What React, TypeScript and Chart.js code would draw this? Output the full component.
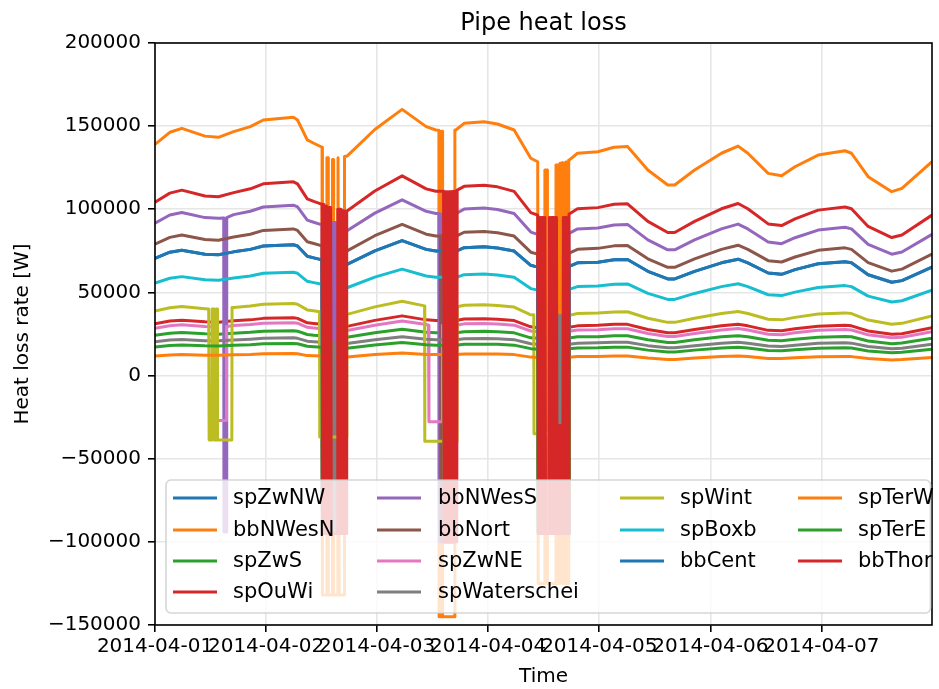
import React, { useEffect, useRef } from 'react';
import { Chart, registerables } from 'chart.js';

Chart.register(...registerables);

// ---------- axes / labels ----------
const chartTitle = 'Pipe heat loss';
const xAxisTitle = 'Time';
const yAxisTitle = 'Heat loss rate [W]';
const xTickHours = [0, 24, 48, 72, 96, 120, 144];
const xTickLabels = ['2014-04-01', '2014-04-02', '2014-04-03', '2014-04-04', '2014-04-05', '2014-04-06', '2014-04-07'];
const yTickValues = [-150000, -100000, -50000, 0, 50000, 100000, 150000, 200000];
const yTickLabels = ['\u2212150000', '\u2212100000', '\u221250000', '0', '50000', '100000', '150000', '200000'];

const seriesNames = ['spZwNW', 'bbNWesN', 'spZwS', 'spOuWi', 'bbNWesS', 'bbNort', 'spZwNE', 'spWaterschei', 'spWint', 'spBoxb', 'bbCent', 'spTerW', 'spTerE', 'bbThor'];
const seriesColors = ['#1f77b4', '#ff7f0e', '#2ca02c', '#d62728', '#9467bd', '#8c564b', '#e377c2', '#7f7f7f', '#bcbd22', '#17becf', '#1f77b4', '#ff7f0e', '#2ca02c', '#d62728'];

// ---------- time grid (hours since 2014-04-01 00:00) ----------
const hours = [0, 3.2, 5.8, 10.8, 13.7, 17, 20.6, 23.4, 29.9, 30.8, 32.9, 34.3, 36.1, 41.5, 47.5, 53.4, 58.6, 60.7, 65, 66.8, 71.1, 74, 77.6, 81.2, 82.7, 89.5, 91.3, 95.7, 99.2, 102.1, 106.5, 110.8, 112.3, 116.6, 122.4, 126, 128.1, 132.5, 135.4, 138.3, 143.3, 149.1, 150.5, 154.1, 159.2, 161.4, 167.9];

// ---------- regular values (kW) ----------
const spZwNW = [70.5, 74.2, 75.4, 73, 72.7, 74.4, 75.9, 77.9, 78.7, 77.9, 71.8, 70.8, 69.6, 66.9, 75, 81.2, 75.9, 74.9, 74.9, 76.9, 77.4, 76.7, 74.9, 66.3, 65.2, 65.7, 67.8, 68.2, 69.6, 69.8, 62.7, 58.1, 58.1, 62.7, 67.8, 70, 67.8, 61.7, 60.9, 63.7, 67.2, 68.5, 67.8, 60.6, 56.1, 57.1, 65.2];
const bbNWesN = [139, 146.3, 148.7, 144, 143.3, 146.7, 149.7, 153.7, 155.3, 153.7, 141.7, 139.7, 137.3, 132, 148, 160.1, 149.7, 147.7, 147.7, 151.7, 152.7, 151.3, 147.7, 130.7, 128.6, 129.6, 133.7, 134.6, 137.3, 137.7, 123.6, 114.6, 114.6, 123.6, 133.7, 138, 133.7, 121.6, 120.2, 125.6, 132.6, 135.2, 133.7, 119.6, 110.6, 112.6, 128.6];
const spZwS = [24.2, 25.5, 25.9, 25.1, 24.9, 25.5, 26, 26.7, 27, 26.7, 24.7, 24.3, 23.9, 23, 25.8, 27.9, 26, 25.7, 25.7, 26.4, 26.6, 26.3, 25.7, 22.7, 22.4, 22.6, 23.3, 23.4, 23.9, 24, 21.5, 19.9, 19.9, 21.5, 23.3, 24, 23.3, 21.2, 20.9, 21.9, 23.1, 23.5, 23.3, 20.8, 19.2, 19.6, 22.4];
const spOuWi = [31.1, 32.8, 33.3, 32.3, 32.1, 32.9, 33.5, 34.4, 34.8, 34.4, 31.7, 31.3, 30.8, 29.6, 33.2, 35.9, 33.5, 33.1, 33.1, 34, 34.2, 33.9, 33.1, 29.3, 28.8, 29, 29.9, 30.2, 30.8, 30.8, 27.7, 25.7, 25.7, 27.7, 29.9, 30.9, 29.9, 27.2, 26.9, 28.1, 29.7, 30.3, 29.9, 26.8, 24.8, 25.2, 28.8];
const bbNWesS = [91.7, 96.6, 98.1, 95, 94.6, 96.8, 98.8, 101.4, 102.5, 101.4, 93.5, 92.2, 90.6, 87.1, 97.7, 105.7, 98.8, 97.5, 97.5, 100.1, 100.8, 99.9, 97.5, 86.3, 84.9, 85.5, 88.2, 88.8, 90.6, 90.9, 81.6, 75.6, 75.6, 81.6, 88.2, 91.1, 88.2, 80.3, 79.3, 82.9, 87.5, 89.2, 88.2, 78.9, 73, 74.3, 84.9];
const bbNort = [79, 83.1, 84.5, 81.8, 81.4, 83.3, 85, 87.3, 88.2, 87.3, 80.5, 79.4, 78, 75, 84.1, 90.9, 85, 83.9, 83.9, 86.2, 86.7, 85.9, 83.9, 74.2, 73, 73.6, 75.9, 76.5, 78, 78.2, 70.2, 65.1, 65.1, 70.2, 75.9, 78.4, 75.9, 69.1, 68.3, 71.3, 75.3, 76.8, 75.9, 67.9, 62.8, 64, 73];
const spZwNE = [28.5, 30, 30.5, 29.5, 29.4, 30.1, 30.7, 31.5, 31.8, 31.5, 29, 28.6, 28.1, 27.1, 30.3, 32.8, 30.7, 30.3, 30.3, 31.1, 31.3, 31, 30.3, 26.8, 26.4, 26.6, 27.4, 27.6, 28.1, 28.2, 25.3, 23.5, 23.5, 25.3, 27.4, 28.3, 27.4, 24.9, 24.6, 25.7, 27.2, 27.7, 27.4, 24.5, 22.7, 23.1, 26.4];
const spWaterschei = [20.3, 21.4, 21.7, 21, 20.9, 21.4, 21.9, 22.4, 22.7, 22.4, 20.7, 20.4, 20, 19.3, 21.6, 23.4, 21.9, 21.6, 21.6, 22.1, 22.3, 22.1, 21.6, 19.1, 18.8, 18.9, 19.5, 19.7, 20, 20.1, 18, 16.7, 16.7, 18, 19.5, 20.1, 19.5, 17.8, 17.5, 18.3, 19.4, 19.7, 19.5, 17.5, 16.1, 16.4, 18.8];
const spWint = [38.8, 40.8, 41.5, 40.2, 40, 40.9, 41.8, 42.9, 43.3, 42.9, 39.5, 39, 38.3, 36.8, 41.3, 44.7, 41.8, 41.2, 41.2, 42.3, 42.6, 42.2, 41.2, 36.5, 35.9, 36.2, 37.3, 37.6, 38.3, 38.4, 34.5, 32, 32, 34.5, 37.3, 38.5, 37.3, 33.9, 33.5, 35, 37, 37.7, 37.3, 33.4, 30.9, 31.4, 35.9];
const spBoxb = [55.6, 58.5, 59.5, 57.6, 57.3, 58.7, 59.9, 61.5, 62.1, 61.5, 56.7, 55.9, 54.9, 52.8, 59.2, 64, 59.9, 59.1, 59.1, 60.7, 61.1, 60.5, 59.1, 52.3, 51.4, 51.8, 53.5, 53.8, 54.9, 55.1, 49.4, 45.8, 45.8, 49.4, 53.5, 55.2, 53.5, 48.6, 48.1, 50.2, 53, 54.1, 53.5, 47.8, 44.2, 45, 51.4];
const bbCent = [70.5, 74.2, 75.4, 73, 72.7, 74.4, 75.9, 77.9, 78.7, 77.9, 71.8, 70.8, 69.6, 66.9, 75, 81.2, 75.9, 74.9, 74.9, 76.9, 77.4, 76.7, 74.9, 66.3, 65.2, 65.7, 67.8, 68.2, 69.6, 69.8, 62.7, 58.1, 58.1, 62.7, 67.8, 70, 67.8, 61.7, 60.9, 63.7, 67.2, 68.5, 67.8, 60.6, 56.1, 57.1, 65.2];
const spTerW = [11.8, 12.4, 12.6, 12.2, 12.2, 12.5, 12.7, 13.1, 13.2, 13.1, 12, 11.9, 11.7, 11.2, 12.6, 13.6, 12.7, 12.6, 12.6, 12.9, 13, 12.9, 12.6, 11.1, 10.9, 11, 11.4, 11.4, 11.7, 11.7, 10.5, 9.7, 9.7, 10.5, 11.4, 11.7, 11.4, 10.3, 10.2, 10.7, 11.3, 11.5, 11.4, 10.2, 9.4, 9.6, 10.9];
const spTerE = [17.2, 18.1, 18.4, 17.9, 17.8, 18.2, 18.6, 19.1, 19.3, 19.1, 17.6, 17.3, 17, 16.4, 18.4, 19.9, 18.6, 18.3, 18.3, 18.8, 18.9, 18.8, 18.3, 16.2, 15.9, 16.1, 16.6, 16.7, 17, 17.1, 15.3, 14.2, 14.2, 15.3, 16.6, 17.1, 16.6, 15.1, 14.9, 15.6, 16.4, 16.8, 16.6, 14.8, 13.7, 14, 15.9];
const bbThor = [104.3, 109.7, 111.5, 108, 107.5, 110, 112.3, 115.3, 116.5, 115.3, 106.3, 104.8, 103, 99, 111, 120.1, 112.3, 110.8, 110.8, 113.8, 114.5, 113.5, 110.8, 98, 96.5, 97.2, 100.3, 101, 103, 103.3, 92.7, 86, 86, 92.7, 100.3, 103.5, 100.3, 91.2, 90.2, 94.2, 99.5, 101.4, 100.3, 89.7, 83, 84.5, 96.5];

// ---------- outage episodes: [hour, kW] vertices ----------
type Seg = [number, number][];
const spZwNW_out: Seg[] = [
  [[36.15, 69.6], [36.25, -95], [41.2, -95], [41.3, 66.9]],
  [[62.45, 74.9], [62.55, -100], [65, -100], [65.1, 74.9]],
  [[82.75, 65.2], [82.85, -95], [89.35, -95], [89.45, 65.7]],
];
const bbNWesN_out: Seg[] = [
  [[36.15, 137.2], [36.2, -132], [37.1, -132], [37.15, 131], [37.4, 131], [37.45, -132], [38.3, -132], [38.35, 130], [38.55, 130], [38.6, -132], [39.5, -132], [39.55, 131], [39.75, 131], [39.8, -132], [40.9, -132], [40.95, 131.7]],
  [[61.35, 147.6], [61.4, -145], [61.55, -145], [61.6, 147], [61.75, 147], [61.8, -145], [61.95, -145], [62, 147], [62.1, 147], [62.15, -145], [64.75, -145], [64.8, 147.7]],
  [[82.75, 128.6], [82.8, -125], [84.2, -125], [84.25, 123.6], [84.75, 123.6], [84.8, -125], [86.6, -125], [86.65, 126.6], [87.05, 126.6], [87.1, -125], [87.45, -125], [87.5, 127.5], [88.1, 128], [88.15, -125], [88.7, -125], [88.75, 128.5], [88.85, 128.5], [88.9, -125], [89.35, -125], [89.4, 129.6]],
];
const spZwS_out: Seg[] = [
  [[36.15, 23.9], [36.25, -95], [41.2, -95], [41.3, 23]],
  [[62.45, 25.7], [62.55, -100], [65, -100], [65.1, 25.7]],
  [[82.75, 22.4], [82.85, -95], [89.35, -95], [89.45, 22.6]],
];
const spOuWi_out: Seg[] = [
  [[36.15, 30.8], [36.25, -95], [41.2, -95], [41.3, 29.6]],
  [[62.45, 33.1], [62.55, -100], [65, -100], [65.1, 33.1]],
  [[82.75, 28.8], [82.85, -95], [89.35, -95], [89.45, 29]],
];
const bbNWesS_out: Seg[] = [
  [[14.85, 94.7], [14.9, -94], [15.45, -94], [15.5, 95]],
  [[36.15, 90.6], [36.25, -95], [37.9, -95], [38, 92], [38.1, -95], [38.2, 92], [38.3, -95], [38.4, 92], [38.5, -95], [38.6, 92], [38.7, -95], [38.8, 92], [38.9, -95], [39, 92], [39.1, -95], [39.2, 92], [39.3, -95], [41.2, -95], [41.3, 87.1]],
  [[61.35, 97.5], [61.45, -100], [61.55, 97], [61.65, -100], [61.75, 97], [61.85, -100], [61.95, 97], [62.05, -100], [62.15, 97], [62.25, -100], [62.35, 97], [62.45, -100], [65, -100], [65.1, 97.5]],
  [[82.75, 84.9], [82.85, -95], [89.35, -95], [89.45, 85.5]],
];
const bbNort_out: Seg[] = [
  [[36.15, 78], [36.25, -95], [41.2, -95], [41.3, 75]],
  [[61.7, 83.9], [61.8, -100], [61.9, 84], [62, -100], [62.1, 84], [62.2, -100], [62.3, 84], [62.4, -100], [65, -100], [65.1, 83.9]],
  [[82.75, 73], [82.85, -95], [89.35, -95], [89.45, 73.6]],
];
const spZwNE_out: Seg[] = [
  [[13.4, 29.4], [13.45, -27], [15.4, -27], [15.45, 29.5]],
  [[36.15, 28.1], [36.25, -95], [41.2, -95], [41.3, 27.1]],
  [[59.1, 30.3], [59.2, -27.7], [62.05, -27.7], [62.1, 30.3], [62.5, 30.3], [62.55, -100], [65, -100], [65.1, 30.3]],
  [[82.75, 26.4], [82.85, -95], [89.35, -95], [89.45, 26.6]],
];
const spWaterschei_out: Seg[] = [
  [[36.15, 20], [36.25, -95], [37.9, -95], [38.05, 20], [38.2, -95], [38.35, 20], [38.5, -95], [38.65, 20], [38.8, -95], [38.95, 20], [39.1, -95], [39.25, 20], [39.4, -95], [41.2, -95], [41.3, 19.3]],
  [[62.45, 21.6], [62.55, -100], [65, -100], [65.1, 21.6]],
  [[82.75, 18.8], [82.85, -95], [86.95, -95], [87, 36], [87.1, -30], [87.2, 36], [87.3, -30], [87.4, 36], [87.5, -30], [87.6, 36], [87.7, -30], [87.8, 36], [87.9, -30], [88, 36], [88.1, -30], [88.15, -95], [89.35, -95], [89.45, 18.9]],
];
const spWint_out: Seg[] = [
  [[11.6, 40], [11.7, -38.7], [12.3, -38.7], [12.35, 40], [12.75, 40], [12.8, -38.7], [13.2, -38.7], [13.25, 40], [13.45, 40], [13.5, -38.7], [16.6, -38.7], [16.65, 40.9]],
  [[35.55, 38.4], [35.6, -37], [41.4, -37], [41.45, 36.9]],
  [[58.25, 41.9], [58.3, -39.5], [65.25, -39.5], [65.3, 41.4]],
  [[81.85, 36.6], [81.9, -35], [89.35, -35], [89.4, 36.2]],
];
const spBoxb_out: Seg[] = [
  [[36.15, 54.9], [36.25, -95], [41.2, -95], [41.3, 52.8]],
  [[62.45, 59.1], [62.55, -100], [65, -100], [65.1, 59.1]],
  [[82.75, 51.4], [82.85, -95], [89.35, -95], [89.45, 51.8]],
];
const bbCent_out: Seg[] = [
  [[36.15, 69.6], [36.25, -95], [41.2, -95], [41.3, 66.9]],
  [[62.45, 74.9], [62.55, -100], [65, -100], [65.1, 74.9]],
  [[82.75, 65.2], [82.85, -95], [89.35, -95], [89.45, 65.7]],
];
const spTerW_out: Seg[] = [
  [[36.15, 11.7], [36.25, -95], [41.2, -95], [41.3, 11.2]],
  [[62.45, 12.6], [62.55, -100], [65, -100], [65.1, 12.6]],
  [[82.75, 10.9], [82.85, -95], [89.35, -95], [89.45, 11]],
];
const spTerE_out: Seg[] = [
  [[36.15, 17], [36.25, -95], [41.2, -95], [41.3, 16.4]],
  [[62.45, 18.3], [62.55, -100], [65, -100], [65.1, 18.3]],
  [[82.75, 15.9], [82.85, -95], [89.35, -95], [89.45, 16.1]],
];
const bbThor_out: Seg[] = [
  [[36.15, 103], [36.3, -95], [36.45, 103], [36.6, -95], [36.75, 102], [36.9, -95], [37.05, 102], [37.2, -95], [37.35, 101], [37.5, -95], [37.65, 101], [37.8, -95], [37.95, 101], [38.1, -95], [39.35, -95], [39.5, 100], [39.65, -95], [39.8, 100], [39.95, -95], [40.1, 100], [40.25, -95], [40.4, 99.5], [40.55, -95], [40.7, 99], [40.85, -95], [41, 99], [41.15, -95], [41.3, 99], [41.4, -95], [41.45, 99]],
  [[62.35, 110.8], [62.5, -100], [62.65, 110.5], [62.8, -100], [62.95, 110.5], [63.1, -100], [63.25, 110.5], [63.4, -100], [63.55, 110.5], [63.7, -100], [63.85, 110.5], [64, -100], [64.15, 110.7], [64.3, -100], [64.45, 110.7], [64.6, -100], [64.75, 110.8], [64.9, -100], [65.05, 111], [65.2, -100], [65.3, 111.5]],
  [[82.75, 96.5], [82.9, -95], [83.05, 95], [83.2, -95], [83.35, 95], [83.5, -95], [83.65, 95], [83.8, -95], [83.95, 95], [84.1, -95], [84.25, 95], [84.4, -95], [85.1, -95], [85.25, 95], [85.4, -95], [85.55, 95], [85.7, -95], [85.85, 95], [86, -95], [86.15, 95], [86.3, -95], [86.45, 95], [86.6, -95], [86.75, 95], [86.9, -95], [87.05, -30], [87.2, -95], [87.35, -30], [87.5, -95], [87.65, -30], [87.8, -95], [87.95, -30], [88.1, -95], [88.25, 95], [88.4, -95], [88.55, 95], [88.7, -95], [88.85, 95], [89, -95], [89.15, 95], [89.3, -95], [89.45, 97]],
];

const seriesValues = [spZwNW, bbNWesN, spZwS, spOuWi, bbNWesS, bbNort, spZwNE, spWaterschei, spWint, spBoxb, bbCent, spTerW, spTerE, bbThor];
const seriesOutages = [spZwNW_out, bbNWesN_out, spZwS_out, spOuWi_out, bbNWesS_out, bbNort_out, spZwNE_out, spWaterschei_out, spWint_out, spBoxb_out, bbCent_out, spTerW_out, spTerE_out, bbThor_out];

function buildPoints(vals: number[], segs: Seg[]) {
  const normal = hours
    .map((h, i) => ({ x: h, y: vals[i] * 1000 }))
    .filter((p) => !segs.some((s) => p.x > s[0][0] && p.x < s[s.length - 1][0]));
  const extra = segs.flat().map(([x, y]) => ({ x, y: y * 1000 }));
  return [...normal, ...extra].sort((a, b) => a.x - b.x);
}

const FONT = '"DejaVu Sans", "Liberation Sans", sans-serif';

const decorPlugin = {
  id: 'decor',
  afterDatasetsDraw(chart: any) {
    const { ctx, chartArea: a } = chart;
    ctx.save();
    // axes frame
    ctx.strokeStyle = '#000';
    ctx.lineWidth = 1.6;
    ctx.strokeRect(a.left, a.top, a.right - a.left, a.bottom - a.top);

    // legend
    const lx = a.left + 11;
    const ly = a.bottom - 145;
    const lw = a.right - 1.5 - lx;
    const lh = 133;
    ctx.beginPath();
    if (ctx.roundRect) ctx.roundRect(lx, ly, lw, lh, 5);
    else ctx.rect(lx, ly, lw, lh);
    ctx.fillStyle = 'rgba(255,255,255,0.8)';
    ctx.fill();
    ctx.strokeStyle = 'rgba(204,204,204,0.8)';
    ctx.lineWidth = 1.6;
    ctx.stroke();

    const colHandle = [18, 222, 465, 643];
    const colText = [78, 283, 525, 703];
    const rowY = [18, 50, 81, 112];
    const columns = [[0, 1, 2, 3], [4, 5, 6, 7], [8, 9, 10], [11, 12, 13]];
    ctx.font = `21px ${FONT}`;
    ctx.textBaseline = 'middle';
    ctx.textAlign = 'left';
    columns.forEach((col, c) => {
      col.forEach((si, r) => {
        const y = ly + rowY[r];
        ctx.strokeStyle = seriesColors[si];
        ctx.lineWidth = 3;
        ctx.beginPath();
        ctx.moveTo(a.left + colHandle[c], y);
        ctx.lineTo(a.left + colHandle[c] + 44, y);
        ctx.stroke();
        ctx.fillStyle = '#000';
        ctx.fillText(seriesNames[si], a.left + colText[c], y + 1);
      });
    });
    ctx.restore();
  },
  afterDraw(chart: any) {
    const { ctx, chartArea: a } = chart;
    const cx = (a.left + a.right) / 2;
    ctx.save();
    ctx.fillStyle = '#000';
    ctx.textAlign = 'center';
    ctx.font = `24px ${FONT}`;
    ctx.textBaseline = 'alphabetic';
    ctx.fillText(chartTitle, cx, 30);
    ctx.font = `20px ${FONT}`;
    ctx.textBaseline = 'middle';
    ctx.fillText(xAxisTitle, cx, 677);
    ctx.translate(23, (a.top + a.bottom) / 2);
    ctx.rotate(-Math.PI / 2);
    ctx.fillText(yAxisTitle, 0, 0);
    ctx.restore();
  },
};

export default function App() {
  const canvasRef = useRef<HTMLCanvasElement | null>(null);

  useEffect(() => {
    if (!canvasRef.current) return;
    const datasets = seriesNames.map((name, i) => ({
      label: name,
      data: buildPoints(seriesValues[i], seriesOutages[i]),
      borderColor: seriesColors[i],
      backgroundColor: seriesColors[i],
      borderWidth: 3,
      pointRadius: 0,
      tension: 0,
      fill: false,
      borderJoinStyle: 'round' as const,
      order: seriesNames.length - i,
    }));

    const chart = new Chart(canvasRef.current, {
      type: 'line',
      data: { datasets },
      options: {
        responsive: false,
        animation: false,
        events: [],
        layout: { padding: { left: 0, right: 7, top: 43, bottom: 0 } },
        plugins: {
          legend: { display: false },
          title: { display: false },
          tooltip: { enabled: false },
        },
        scales: {
          x: {
            type: 'linear',
            min: 0,
            max: 167.9,
            afterBuildTicks: (axis: any) => {
              axis.ticks = xTickHours.map((v) => ({ value: v }));
            },
            afterFit: (s: any) => {
              s.height = 64;
            },
            ticks: {
              autoSkip: false,
              maxRotation: 0,
              minRotation: 0,
              padding: 3,
              color: '#000',
              font: { size: 20, family: FONT },
              callback: (_v: any, idx: number) => xTickLabels[idx],
            },
            grid: { color: '#e6e6e6', lineWidth: 1.6, tickLength: 7, tickColor: '#000', tickWidth: 1.6 },
            border: { display: false },
          },
          y: {
            type: 'linear',
            min: -150000,
            max: 200000,
            afterBuildTicks: (axis: any) => {
              axis.ticks = yTickValues.map((v) => ({ value: v }));
            },
            afterFit: (s: any) => {
              s.width = 155;
            },
            ticks: {
              padding: 7,
              color: '#000',
              font: { size: 20, family: FONT },
              callback: (_v: any, idx: number) => yTickLabels[idx],
            },
            grid: { color: '#e6e6e6', lineWidth: 1.6, tickLength: 7, tickColor: '#000', tickWidth: 1.6 },
            border: { display: false },
          },
        },
      },
      plugins: [decorPlugin],
    });
    return () => chart.destroy();
  }, []);

  return (
    <div style={{ position: 'absolute', left: 0, top: 0, width: 939, height: 689, background: '#fff' }}>
      <canvas ref={canvasRef} width={939} height={689} style={{ width: 939, height: 689, display: 'block' }} />
    </div>
  );
}
